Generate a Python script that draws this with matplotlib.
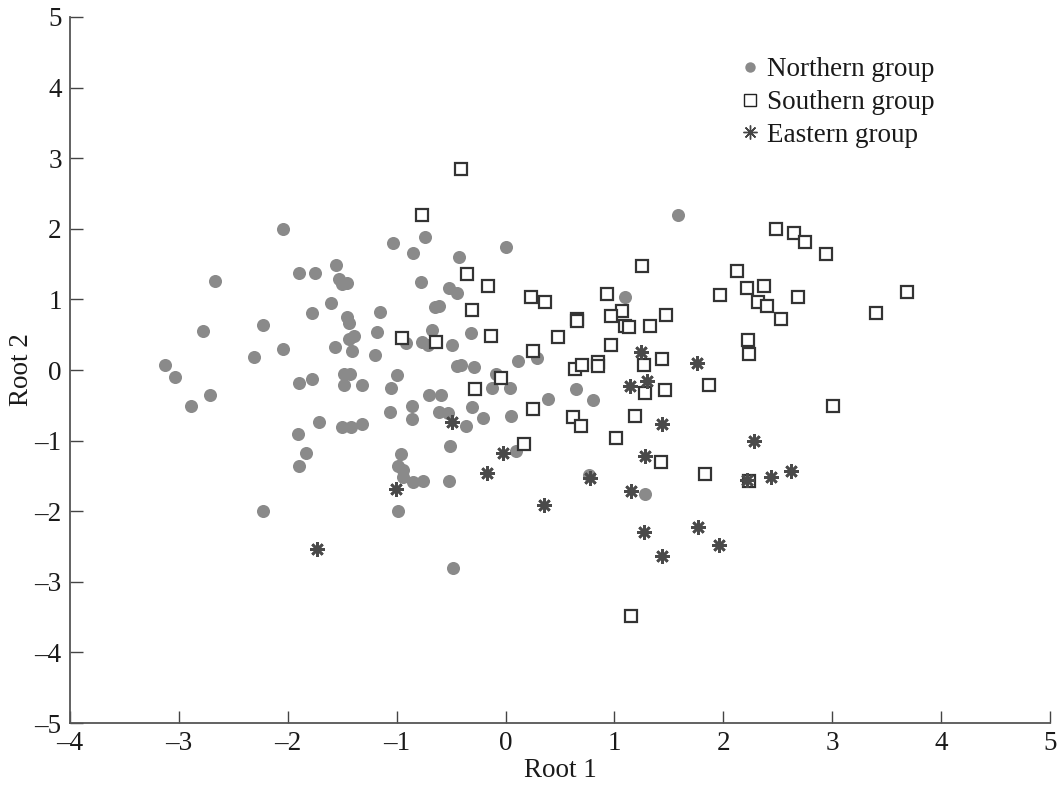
import matplotlib
matplotlib.use("Agg")
import matplotlib.pyplot as plt
from matplotlib.lines import Line2D

plt.rcParams['font.family'] = ['Liberation Serif', 'DejaVu Serif']

northern_x = [-2.04, -1.03, -0.85, -0.74, -2.67, -1.90, -1.75, -1.56, -1.53, -1.46,
              -1.60, -1.78, -1.15, -1.46, -1.44, -2.23, -2.78, -1.18, -1.39, -1.44,
              -2.04, -1.57, -1.41, -2.31, -1.20, -0.91, -3.13, -3.04, -1.90, -1.78,
              -1.48, -1.43, -1.48, -1.32, -1.00, -1.05, -2.71, -2.89, -1.06, -0.86,
              -0.86, -1.71, -1.50, -1.42, -1.32, -1.91, -1.83, -1.90, -0.96, -0.99,
              -0.94, -0.94, -2.23, -0.99, -0.85, -0.76, -0.52, -0.51, -0.48, -0.43,
              0.00, -0.78, -0.52, -0.45, -0.61, -0.65, -0.77, -0.71, -0.68, -0.49,
              -0.32, -0.45, -0.41, -0.29, -0.70, -0.59, -0.61, -0.53, -0.36, -0.31,
              -0.21, -0.09, -0.12, 0.04, 0.11, 0.29, 0.39, 0.05, 0.65, 0.80,
              1.10, 1.58, 0.10, 0.77, 1.28, -1.50]
northern_y = [2.00, 1.80, 1.66, 1.88, 1.26, 1.37, 1.37, 1.49, 1.29, 1.23,
              0.95, 0.81, 0.82, 0.75, 0.67, 0.64, 0.55, 0.54, 0.48, 0.44,
              0.30, 0.33, 0.27, 0.18, 0.21, 0.38, 0.07, -0.10, -0.18, -0.13,
              -0.06, -0.06, -0.21, -0.21, -0.07, -0.26, -0.35, -0.51, -0.59, -0.51,
              -0.69, -0.73, -0.81, -0.81, -0.76, -0.90, -1.17, -1.36, -1.19, -1.36,
              -1.42, -1.51, -2.00, -2.00, -1.58, -1.57, -1.57, -1.08, -2.81, 1.60,
              1.74, 1.24, 1.16, 1.09, 0.90, 0.89, 0.40, 0.35, 0.56, 0.35,
              0.53, 0.06, 0.07, 0.04, -0.35, -0.35, -0.59, -0.61, -0.79, -0.53,
              -0.68, -0.05, -0.25, -0.26, 0.13, 0.17, -0.41, -0.65, -0.27, -0.43,
              1.04, 2.20, -1.15, -1.49, -1.76, 1.22]

southern_x = [-0.41, -0.77, -0.35, -0.16, -0.31, -0.95, -0.64, -0.13, 0.23, 0.36,
              0.48, 0.25, -0.04, -0.28, 0.25, 0.17, 0.66, 0.66, 1.25, 0.93,
              1.07, 0.97, 1.10, 1.13, 1.33, 1.47, 0.97, 0.64, 0.70, 0.85,
              0.85, 1.27, 1.44, 1.28, 1.46, 0.62, 0.69, 1.19, 1.01, 1.43,
              2.48, 2.65, 2.75, 2.94, 2.13, 2.22, 2.37, 1.97, 2.32, 2.40,
              2.53, 2.69, 3.69, 3.40, 2.23, 2.24, 1.87, 3.01, 1.83, 2.24, 1.15]
southern_y = [2.84, 2.20, 1.36, 1.19, 0.85, 0.45, 0.40, 0.48, 1.03, 0.96,
              0.47, 0.27, -0.11, -0.27, -0.55, -1.05, 0.72, 0.69, 1.48, 1.08,
              0.84, 0.76, 0.62, 0.61, 0.62, 0.78, 0.35, 0.01, 0.07, 0.12,
              0.06, 0.07, 0.16, -0.33, -0.28, -0.66, -0.79, -0.65, -0.97, -1.30,
              2.00, 1.94, 1.81, 1.65, 1.40, 1.16, 1.19, 1.06, 0.97, 0.91,
              0.72, 1.04, 1.10, 0.81, 0.42, 0.23, -0.21, -0.51, -1.47, -1.57, -3.49]

eastern_x = [1.24, 1.30, 1.14, 1.76, 1.44, 2.28, 1.28, -0.49, -0.02, -0.17,
             0.78, 0.35, 1.15, 1.27, 1.44, -1.01, -1.73, 2.22, 2.44, 2.62,
             1.77, 1.96]
eastern_y = [0.26, -0.15, -0.22, 0.10, -0.77, -1.01, -1.22, -0.74, -1.18, -1.46,
             -1.53, -1.91, -1.72, -2.29, -2.64, -1.68, -2.53, -1.56, -1.51, -1.43,
             -2.22, -2.48]

labels = ["Northern group", "Southern group", "Eastern group"]
xticks = list(range(-4, 6))
yticks = list(range(-5, 6))

fig = plt.figure(figsize=(10.58, 7.87), dpi=100)
ax = fig.add_axes([0.0662, 0.0813, 0.9262, 0.8971])

gray = '#8a8a8a'
dark = '#333333'
ast = '#4a4a4a'
fs = 19.5

ax.plot(northern_x, northern_y, 'o', ms=9.4, color=gray, mec='none', zorder=2)
ax.plot(southern_x, southern_y, 's', ms=8.4, mfc='white', mec=dark, mew=1.6, zorder=3)
ax.plot(eastern_x, eastern_y, ls='none', marker=(8, 2, 0), ms=10.5, color=ast, mew=1.9, zorder=4)

ax.set_xlim(-4, 5)
ax.set_ylim(-5, 5)
ax.set_xticks(xticks)
ax.set_yticks(yticks)
ax.set_xticklabels([str(t).replace('-', '\u2013') for t in xticks])
ax.set_yticklabels([str(t).replace('-', '\u2013') for t in yticks])
for s in ['top', 'right']:
    ax.spines[s].set_visible(False)
for s in ['left', 'bottom']:
    ax.spines[s].set_color('#555555')
    ax.spines[s].set_linewidth(1.3)
ax.tick_params(direction='in', length=9, width=1.0, color='#444444',
               labelsize=fs, labelcolor='#1a1a1a')
ax.tick_params(axis='x', pad=6)
ax.tick_params(axis='y', pad=6)
ax.set_xlabel("Root 1", fontsize=fs, color='#1a1a1a', labelpad=1)
ax.set_ylabel("Root 2", fontsize=fs, color='#1a1a1a', labelpad=0)

handles = [
    Line2D([], [], ls='none', marker='o', ms=7.5, color=gray, mec='none'),
    Line2D([], [], ls='none', marker='s', ms=9, mfc='white', mec='#222222', mew=1.0),
    Line2D([], [], ls='none', marker=(8, 2, 0), ms=10, color='#444444', mew=1.0),
]
leg = ax.legend(handles, labels, loc='upper left', bbox_to_anchor=(0.7015, 0.927),
                bbox_transform=fig.transFigure, frameon=False, fontsize=fs,
                handlelength=0.6, handletextpad=0.3, labelspacing=0.28,
                borderaxespad=0, borderpad=0)
for t in leg.get_texts():
    t.set_color('#1a1a1a')

fig.savefig("out.png", dpi=100)
